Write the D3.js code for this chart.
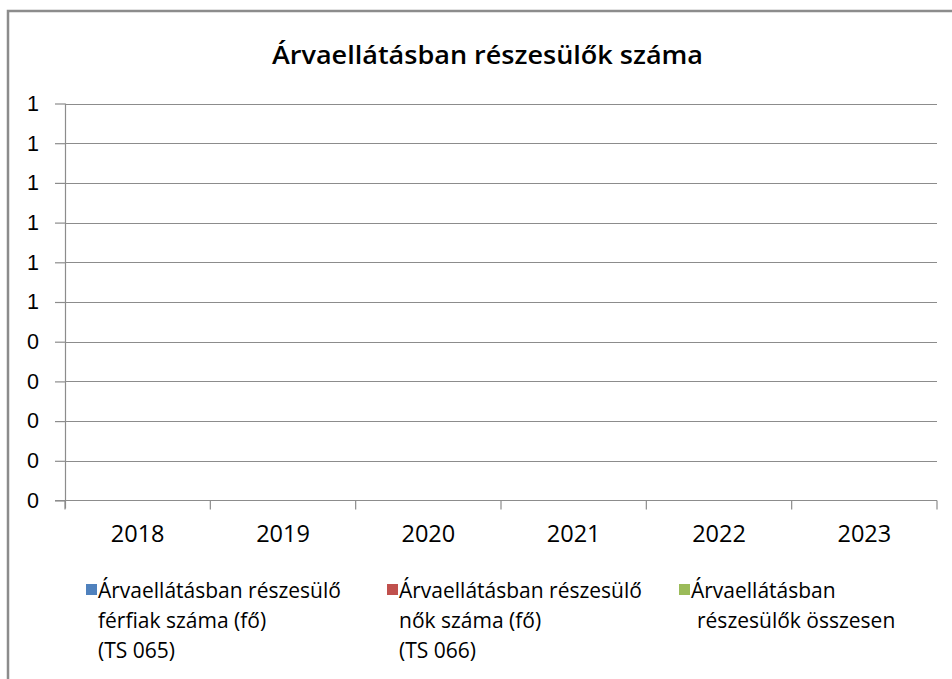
<!DOCTYPE html>
<html>
<head>
<meta charset="utf-8">
<script src="https://cdn.jsdelivr.net/npm/d3@7"></script>
<style>
  body { margin: 0; background: #fff; }
  svg { display: block; }
</style>
</head>
<body>
<svg id="chart" width="952" height="679"></svg>
<script>
// data: the chart has no values, every series is zero
var years = ["2018", "2019", "2020", "2021", "2022", "2023"]
var ferfiak = [0, 0, 0, 0, 0, 0]
var nok = [0, 0, 0, 0, 0, 0]
var osszesen = [0, 0, 0, 0, 0, 0]
var yTicks = [0, 0.1, 0.2, 0.3, 0.4, 0.5, 0.6, 0.7, 0.8, 0.9, 1]
var seriesNames = [
    ["Árvaellátásban részesülő", "férfiak száma (fő)", "(TS 065)"],
    ["Árvaellátásban részesülő", "nők száma (fő)", "(TS 066)"],
    ["Árvaellátásban", "részesülők összesen"]
]
var seriesColors = ["#4f81bd", "#c0504d", "#9bbb59"]
var title = "Árvaellátásban részesülők száma"

var calibri = "'Open Sans', 'Noto Sans', sans-serif"

var svg = d3.select("#chart")

// outer frame
svg.append("path")
    .attr("d", "M8,680 V11 H960")
    .attr("fill", "none")
    .attr("stroke", "#8c8c8c")
    .attr("stroke-width", 2.5)

var t = svg.append("text")
    .attr("x", 487.5)
    .attr("y", 64)
    .attr("text-anchor", "middle")
    .style("font-family", calibri)
    .style("font-size", "25px")
    .style("font-weight", "600")
    .attr("fill", "#000")
    .text(title)
t.attr("textLength", 431).attr("lengthAdjust", "spacingAndGlyphs")

var dims = { left: 65, right: 937, top: 103.5, bottom: 500.5 }

var x = d3.scaleBand()
    .domain(years)
    .range([dims.left, dims.right])

var y = d3.scaleLinear()
    .domain([0, 1])
    .range([dims.bottom, dims.top])

// gridlines
svg.append("g")
    .selectAll("line")
    .data(yTicks.slice(1))
    .enter()
    .append("line")
        .attr("x1", dims.left)
        .attr("x2", dims.right)
        .attr("y1", function(d){ return Math.round(y(d)) + 0.5 })
        .attr("y2", function(d){ return Math.round(y(d)) + 0.5 })
        .attr("stroke", "#8c8c8c")
        .attr("stroke-width", 1.2)

// y axis
var yAxis = svg.append("g")
    .attr("transform", "translate(" + dims.left + ",0)")
    .call(d3.axisLeft(y)
        .tickValues(yTicks)
        .tickSize(10)
        .tickPadding(16)
        .tickFormat(function(d){ return String(Math.round(d)) }))
yAxis.attr("font-size", null)
yAxis.select(".domain").attr("stroke", "#8c8c8c").attr("stroke-width", 1.2)
    .attr("d", "M0.5," + dims.top + "V" + (dims.bottom + 8))
yAxis.selectAll(".tick line").attr("stroke", "#8c8c8c").attr("stroke-width", 1.2)
yAxis.selectAll(".tick text")
    .style("font-family", "'Liberation Sans', Arial, sans-serif")
    .style("font-size", "21.5px")
    .attr("fill", "#000")

// x axis
var xAxis = svg.append("g")
    .attr("transform", "translate(0," + dims.bottom + ")")
    .call(d3.axisBottom(x).tickSize(0).tickPadding(25))
xAxis.select(".domain").remove()
xAxis.selectAll(".tick text")
    .style("font-family", calibri)
    .style("font-size", "23.5px")
    .attr("fill", "#000")
svg.append("line")
    .attr("x1", dims.left - 10).attr("x2", dims.right)
    .attr("y1", dims.bottom).attr("y2", dims.bottom)
    .attr("stroke", "#8c8c8c").attr("stroke-width", 1.2)
svg.append("g")
    .selectAll("line")
    .data(years.concat(["end"]))
    .enter()
    .append("line")
        .attr("x1", function(d, i){ return dims.left + i * x.step() })
        .attr("x2", function(d, i){ return dims.left + i * x.step() })
        .attr("y1", dims.bottom)
        .attr("y2", dims.bottom + 9)
        .attr("stroke", "#8c8c8c").attr("stroke-width", 1.2)

// bars (all zero height)
var groups = [ferfiak, nok, osszesen]
var inner = d3.scaleBand().domain([0, 1, 2]).range([0, x.bandwidth()]).paddingOuter(0.6)
groups.forEach(function(vals, s){
    svg.append("g")
        .selectAll("rect")
        .data(vals)
        .enter()
        .append("rect")
            .attr("x", function(d, i){ return x(years[i]) + inner(s) })
            .attr("width", inner.bandwidth())
            .attr("y", function(d){ return y(d) })
            .attr("height", function(d){ return y(0) - y(d) })
            .attr("fill", seriesColors[s])
})

// legend
var legendX = [86, 387, 679]
var legend = svg.append("g")
seriesNames.forEach(function(lines, i){
    var g = legend.append("g").attr("transform", "translate(" + legendX[i] + ",584)")
    g.append("rect")
        .attr("width", 11).attr("height", 11)
        .attr("fill", seriesColors[i])
    var tx = g.append("text")
        .style("font-family", calibri)
        .style("font-size", "21px")
        .attr("fill", "#000")
    lines.forEach(function(l, j){
        tx.append("tspan")
            .attr("x", j == 0 ? 12 : (i == 2 ? 18 : 12))
            .attr("y", 14 + j * 30)
            .text(l)
    })
})
</script>
</body>
</html>
